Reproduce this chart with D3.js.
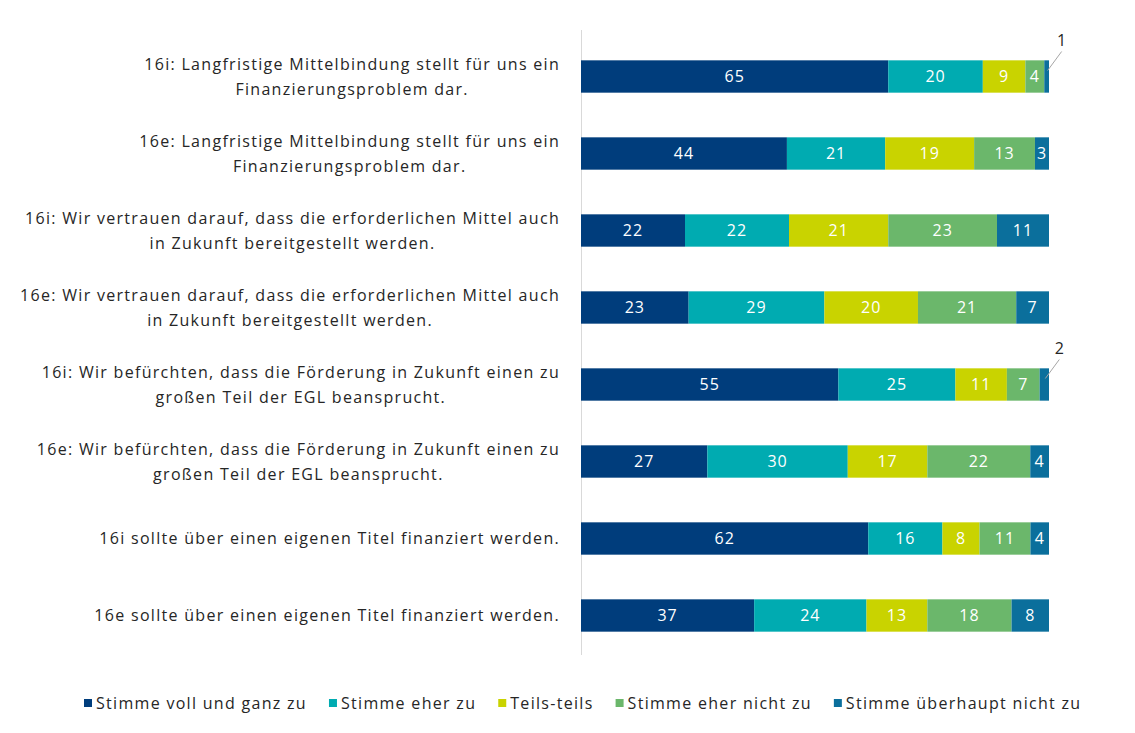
<!DOCTYPE html>
<html>
<head>
<meta charset="utf-8">
<script src="https://cdn.jsdelivr.net/npm/d3@7"></script>
<style>
  body { margin: 0; background: #fff; }
  svg { display: block; font-family: "Open Sans", sans-serif; }
</style>
</head>
<body>
<div id="chart"></div>
<script>
const categories = [
  ["16i: Langfristige Mittelbindung stellt für uns ein", "Finanzierungsproblem dar."],
  ["16e: Langfristige Mittelbindung stellt für uns ein", "Finanzierungsproblem dar."],
  ["16i: Wir vertrauen darauf, dass die erforderlichen Mittel auch", "in Zukunft bereitgestellt werden."],
  ["16e: Wir vertrauen darauf, dass die erforderlichen Mittel auch", "in Zukunft bereitgestellt werden."],
  ["16i: Wir befürchten, dass die Förderung in Zukunft einen zu", "großen Teil der EGL beansprucht."],
  ["16e: Wir befürchten, dass die Förderung in Zukunft einen zu", "großen Teil der EGL beansprucht."],
  ["16i sollte über einen eigenen Titel finanziert werden."],
  ["16e sollte über einen eigenen Titel finanziert werden."]
];
const seriesNames = ["Stimme voll und ganz zu", "Stimme eher zu", "Teils-teils", "Stimme eher nicht zu", "Stimme überhaupt nicht zu"];
const vollUndGanz = [65, 44, 22, 23, 55, 27, 62, 37];
const eherZu      = [20, 21, 22, 29, 25, 30, 16, 24];
const teilsTeils  = [9, 19, 21, 20, 11, 17, 8, 13];
const eherNicht   = [4, 13, 23, 21, 7, 22, 11, 18];
const ueberhaupt  = [1, 3, 11, 7, 2, 4, 4, 8];
const colors = ["#003d7c", "#00abb1", "#c9d300", "#6bb76b", "#0b6f9c"];

const width = 1135, height = 733;
const svg = d3.select("#chart").append("svg")
  .attr("width", width).attr("height", height);

const series = [vollUndGanz, eherZu, teilsTeils, eherNicht, ueberhaupt];
const rows = categories.map((c, i) => {
  const vals = series.map(s => s[i]);
  const total = d3.sum(vals);
  let acc = 0;
  return vals.map((v, k) => {
    const seg = { row: i, k, v, x0: acc / total * 100, x1: (acc + v) / total * 100 };
    acc += v;
    return seg;
  });
});

const x = d3.scaleLinear().domain([0, 100]).range([581, 1049]);
const y = d3.scaleBand().domain(d3.range(categories.length))
  .range([38, 654]).paddingInner(0.58).paddingOuter(0.29);

const fs = 16, ls = "1.3px";

// axis line
svg.append("line")
  .attr("x1", 581.5).attr("x2", 581.5)
  .attr("y1", 30).attr("y2", 655)
  .attr("stroke", "#d9d9d9").attr("stroke-width", 1);

const segs = rows.flat();
svg.selectAll("rect.seg")
  .data(segs)
  .join("rect")
  .attr("class", "seg")
  .attr("x", d => x(d.x0))
  .attr("y", d => y(d.row))
  .attr("width", d => x(d.x1) - x(d.x0))
  .attr("height", y.bandwidth())
  .attr("fill", d => colors[d.k]);

svg.selectAll("text.val")
  .data(segs.filter(d => d.v >= 3))
  .join("text")
  .attr("class", "val")
  .attr("x", d => (x(d.x0) + x(d.x1)) / 2)
  .attr("y", d => y(d.row) + y.bandwidth() / 2)
  .attr("dy", "0.36em")
  .attr("text-anchor", "middle")
  .attr("fill", "#fff")
  .attr("font-size", fs)
  .attr("letter-spacing", "1px")
  .text(d => d.v);

// callouts for small segments
const small = segs.filter(d => d.v < 3);
small.forEach(d => {
  const cx = (x(d.x0) + x(d.x1)) / 2;
  const yc = y(d.row) + y.bandwidth() / 2;
  svg.append("line")
    .attr("x1", cx + 1).attr("y1", yc - 6)
    .attr("x2", cx + 15).attr("y2", yc - 25)
    .attr("stroke", "#a6a6a6").attr("stroke-width", 1);
  svg.append("text")
    .attr("x", cx + 15).attr("y", yc - 31)
    .attr("text-anchor", "middle")
    .attr("fill", "#262626")
    .attr("font-size", fs)
    .text(d.v);
});

// category labels: block right-aligned at axis, lines centred inside block
const labelRight = 560;
categories.forEach((lines, i) => {
  const g = svg.append("g");
  const yc = y(i) + y.bandwidth() / 2;
  const lh = 25;
  const texts = lines.map((t, j) => g.append("text")
    .attr("y", yc + (j - (lines.length - 1) / 2) * lh)
    .attr("dy", "0.36em")
    .attr("text-anchor", "middle")
    .attr("fill", "#262626")
    .attr("font-size", fs)
    .attr("letter-spacing", ls)
    .text(t));
  const maxW = d3.max(texts, t => t.node().getComputedTextLength());
  texts.forEach(t => t.attr("x", labelRight - maxW / 2));
});

// legend
const legend = svg.append("g").attr("transform", "translate(84,703)");
let lx = 0;
seriesNames.forEach((n, k) => {
  const item = legend.append("g").attr("transform", `translate(${lx},0)`);
  item.append("rect").attr("x", 0).attr("y", -4).attr("width", 8).attr("height", 8).attr("fill", colors[k]);
  const t = item.append("text").attr("x", 12).attr("dy", "0.36em")
    .attr("font-size", fs).attr("letter-spacing", ls).attr("fill", "#262626").text(n);
  lx += 12 + t.node().getComputedTextLength() + 22;
});
</script>
</body>
</html>
